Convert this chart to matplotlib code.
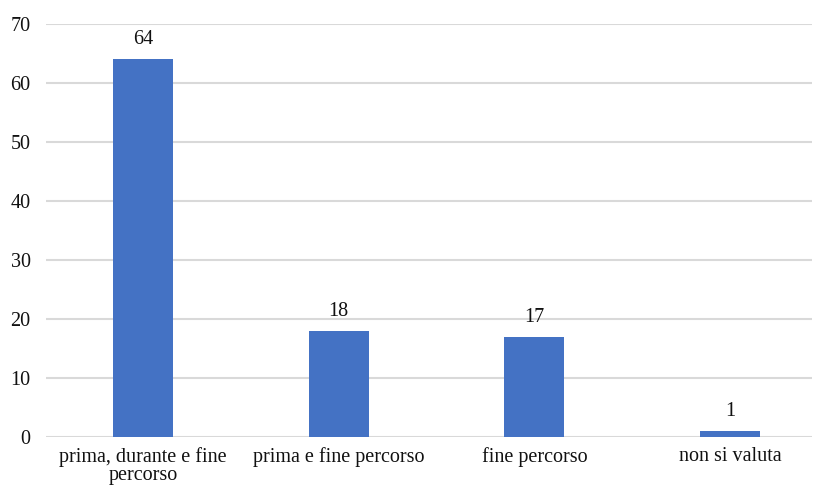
import matplotlib
matplotlib.use("Agg")
import matplotlib.pyplot as plt

categories = ["prima, durante e fine\npercorso", "prima e fine percorso", "fine percorso", "non si valuta"]
values = [64, 18, 17, 1]
y_ticks = [0, 10, 20, 30, 40, 50, 60, 70]

plt.rcParams["font.family"] = ["Liberation Serif", "DejaVu Serif"]
FS = 14.5
TXT = "#111111"

fig = plt.figure(figsize=(8.15, 4.87), dpi=100)
ax = fig.add_axes([46 / 815, 1 - 437 / 487, (812 - 46) / 815, (437 - 24) / 487])

x = list(range(len(categories)))
ax.bar(x, values, width=0.306, color="#4472C4", zorder=3)
for xi, v in zip(x, values):
    ax.text(xi, v + 1.7, str(v), ha="center", va="bottom", fontsize=FS, color=TXT)

ax.set_xlim(-0.495, 3.418)
ax.set_ylim(0, 70)
ax.set_yticks(y_ticks)
ax.set_xticks(x)
ax.set_xticklabels(categories, fontsize=FS, color=TXT, linespacing=0.94)
ax.tick_params(axis="y", labelsize=FS, labelcolor=TXT, length=0, pad=11)
ax.tick_params(axis="x", length=0, pad=7.5)
ax.grid(axis="y", color="#d9d9d9", linewidth=1.5, zorder=0)
for s in ["top", "right", "left", "bottom"]:
    ax.spines[s].set_visible(False)

fig.savefig("out.png", dpi=100)
